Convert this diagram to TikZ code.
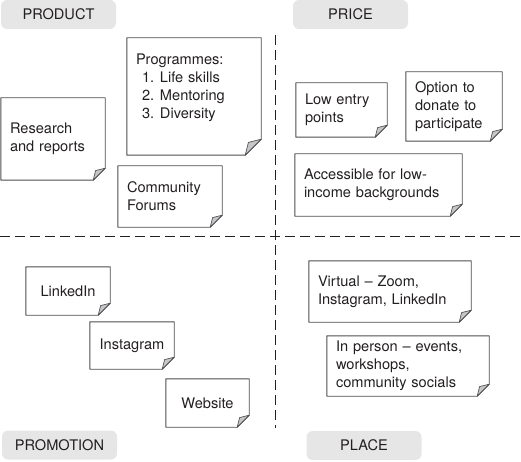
\documentclass[tikz,border=0pt]{standalone}
\usepackage{fontspec}
\setmainfont{TeX Gyre Heros}
\usepackage{xcolor}
\usetikzlibrary{positioning}
\definecolor{labelgray}{HTML}{E6E6E7}
\definecolor{notegray}{HTML}{4D4D4F}
\definecolor{foldgray}{HTML}{C6C6C8}
\definecolor{inkblack}{HTML}{231F20}
\newcommand{\notefont}{\fontsize{14.6pt}{18pt}\selectfont}
\newcommand{\dogear}[2][12]{%
  \draw[noteline] (#2.north west) -- (#2.north east) -- ([yshift=#1pt]#2.south east)
    -- ([xshift=-#1pt]#2.south east) -- (#2.south west) -- cycle;
  \draw[foldpart] ([yshift=#1pt]#2.south east) -- ([xshift=-0.8*#1pt, yshift=0.8*#1pt]#2.south east)
    -- ([xshift=-#1pt]#2.south east) -- cycle;
}
\tikzset{
  note/.style={inner xsep=9pt, inner ysep=0pt, align=left, text=inkblack, font=\notefont},
  single/.style={inner sep=0pt, align=center, text=inkblack, font=\notefont},
  quadlabel/.style={fill=labelgray, rounded corners=6pt, minimum width=115pt, minimum height=29pt,
    inner sep=0pt, text=inkblack, font=\notefont},
  noteline/.style={draw=notegray, line width=0.9pt, line join=round},
  foldpart/.style={draw=notegray, line width=0.7pt, fill=foldgray, line join=round},
  divider/.style={draw=inkblack, line width=1pt, dash pattern=on 10pt off 5pt}
}
\begin{document}
\begin{tikzpicture}[x=1pt, y=-1pt]
  \useasboundingbox (0,0) rectangle (521,462);

  % Draw the quadrant labels
  \node[quadlabel] (product) at (58.5,14.5) {PRODUCT};
  \node[quadlabel] (price) at (350.5,14.5) {PRICE};
  \node[quadlabel] (promotion) at (59.5,445) {PROMOTION};
  \node[quadlabel] (place) at (364,445.5) {PLACE};

  % Draw the dashed dividers
  \coordinate (vtop) at (275,35);
  \coordinate (vbot) at (275,428);
  \coordinate (hleft) at (0,236);
  \coordinate (hright) at (521,236);
  \draw[divider] (vtop) -- (vbot);
  \draw[divider] (hleft) -- (hright);

  % Product notes
  \node[note, text width=86pt, minimum height=82pt] (research) at (53,139)
    {Research\\and reports};
  \node[note, text width=116pt, minimum height=117pt] (programmes) at (194,96.5)
    {Programmes:\\
     \hspace*{6pt}\makebox[18pt][l]{1.}Life skills\\
     \hspace*{6pt}\makebox[18pt][l]{2.}Mentoring\\
     \hspace*{6pt}\makebox[18pt][l]{3.}Diversity\\[2pt]\mbox{}};
  \node[note, text width=86pt, minimum height=61pt] (community) at (170,196.5)
    {Community\\Forums};

  % Price notes
  \node[note, text width=73pt, minimum height=54pt] (lowentry) at (341.5,110)
    {Low entry\\points};
  \node[note, text width=78pt, minimum height=69pt] (donate) at (454,106.5)
    {Option to\\donate to\\participate};
  \node[note, text width=149pt, minimum height=62pt] (accessible) at (378.5,185)
    {Accessible for low-\\income backgrounds};

  % Promotion notes
  \node[single, minimum width=84pt, minimum height=48pt] (linkedin) at (68,291) {LinkedIn};
  \node[single, minimum width=84pt, minimum height=47pt] (instagram) at (132,345.5) {Instagram};
  \node[single, minimum width=83pt, minimum height=48pt] (website) at (207.5,403) {Website};

  % Place notes
  \node[note, text width=144pt, minimum height=61pt] (virtual) at (390,291.5)
    {Virtual -- Zoom,\\Instagram, LinkedIn};
  \node[note, text width=144pt, minimum height=60pt] (inperson) at (408,366)
    {In person -- events,\\workshops,\\community socials};

  % Draw the folded corners
  \foreach \n in {research, community, lowentry, donate, accessible,
                  linkedin, instagram, website, virtual, inperson}
    \dogear{\n};
  \dogear[16]{programmes};
\end{tikzpicture}
\end{document}
